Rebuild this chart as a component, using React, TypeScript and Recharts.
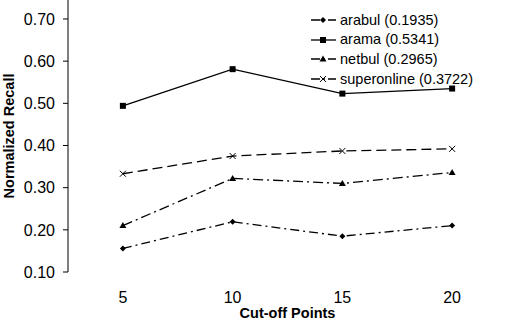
import { LineChart, Line, XAxis, YAxis } from "recharts";

const cutoffs = [5, 10, 15, 20];
const arabul = [0.156, 0.219, 0.185, 0.21];
const arama = [0.494, 0.581, 0.523, 0.535];
const netbul = [0.21, 0.322, 0.31, 0.336];
const superonline = [0.333, 0.375, 0.387, 0.392];

const yTicks = [0.1, 0.2, 0.3, 0.4, 0.5, 0.6, 0.7];
const bandEdges = [2.5, 7.5, 12.5, 17.5, 22.5];

const FONT = "'Liberation Sans', Arial, sans-serif";

type MarkerKind = "diamond" | "square" | "triangle" | "cross";

const series: { key: string; label: string; dash?: string; marker: MarkerKind }[] = [
  { key: "arabul", label: "arabul (0.1935)", dash: "9 4 2 4", marker: "diamond" },
  { key: "arama", label: "arama (0.5341)", marker: "square" },
  { key: "netbul", label: "netbul (0.2965)", dash: "10 4 2 4", marker: "triangle" },
  { key: "superonline", label: "superonline (0.3722)", dash: "10 5", marker: "cross" },
];

const data = cutoffs.map((x, i) => ({
  x,
  arabul: arabul[i],
  arama: arama[i],
  netbul: netbul[i],
  superonline: superonline[i],
}));

const Marker = ({ kind, cx, cy }: { kind: MarkerKind; cx: number; cy: number }) => {
  if (kind === "square")
    return <rect x={cx - 3} y={cy - 3} width={6} height={6} fill="#000" />;
  if (kind === "diamond")
    return (
      <polygon
        points={`${cx},${cy - 3} ${cx + 3},${cy} ${cx},${cy + 3} ${cx - 3},${cy}`}
        fill="#000"
      />
    );
  if (kind === "triangle")
    return (
      <polygon
        points={`${cx},${cy - 3.5} ${cx + 3.5},${cy + 2.5} ${cx - 3.5},${cy + 2.5}`}
        fill="#000"
      />
    );
  return (
    <g stroke="#000" strokeWidth={1}>
      <line x1={cx - 3} y1={cy - 3} x2={cx + 3} y2={cy + 3} />
      <line x1={cx - 3} y1={cy + 3} x2={cx + 3} y2={cy - 3} />
    </g>
  );
};

// legend drawn as an overlay so it doesn't shrink the plot
const LegendBox = () => (
  <div
    style={{
      position: "absolute",
      left: 310,
      top: 10,
      fontFamily: FONT,
      fontSize: 14.5,
      color: "#000",
      lineHeight: 1,
    }}
  >
    {series.map((s) => (
      <div key={s.key} style={{ display: "flex", alignItems: "center", height: 19.7 }}>
        <svg width={28} height={10} style={{ marginRight: 2 }}>
          <line
            x1={1}
            y1={5}
            x2={26}
            y2={5}
            stroke="#000"
            strokeWidth={1.3}
            strokeDasharray={s.dash ? "9 3 2 3" : undefined}
          />
          <Marker kind={s.marker} cx={13} cy={5} />
        </svg>
        <span>{s.label}</span>
      </div>
    ))}
  </div>
);

export default function App() {
  return (
    <div style={{ position: "absolute", left: 0, top: 0, width: 510, height: 321, background: "#fff" }}>
      <LineChart
        width={510}
        height={321}
        data={data}
        margin={{ top: 0, right: 3, bottom: 0, left: 0 }}
        style={{ fontFamily: FONT }}
      >
        <XAxis
          xAxisId="edges"
          type="number"
          dataKey="x"
          domain={[2.5, 22.5]}
          ticks={bandEdges}
          tick={false}
          tickSize={5}
          height={0}
          stroke="#000"
          allowDataOverflow
        />
        <XAxis
          xAxisId="labels"
          type="number"
          dataKey="x"
          domain={[2.5, 22.5]}
          ticks={cutoffs}
          axisLine={false}
          tickLine={false}
          tickMargin={14}
          height={49}
          tick={{ fill: "#000", fontSize: 16 }}
          label={{
            value: "Cut-off Points",
            position: "insideBottom",
            offset: 3,
            style: { fontWeight: "bold", fontSize: 14.5, fill: "#000" },
          }}
        />
        <YAxis
          type="number"
          domain={[0.1, 0.745]}
          ticks={yTicks}
          width={68}
          tickSize={5}
          tickMargin={8}
          stroke="#000"
          tick={{ fill: "#000", fontSize: 16 }}
          tickFormatter={(v: number) => v.toFixed(2)}
          allowDataOverflow
          label={{
            value: "Normalized Recall",
            angle: -90,
            position: "insideLeft",
            offset: 9,
            style: { fontWeight: "bold", fontSize: 14.5, fill: "#000", textAnchor: "middle" },
          }}
        />
        {series.map((s) => (
          <Line
            key={s.key}
            xAxisId="labels"
            dataKey={s.key}
            stroke="#000"
            strokeWidth={1.3}
            strokeDasharray={s.dash}
            isAnimationActive={false}
            dot={(p: any) => <Marker key={`${s.key}-${p.index}`} kind={s.marker} cx={p.cx} cy={p.cy} />}
            activeDot={false}
          />
        ))}
      </LineChart>
      <LegendBox />
    </div>
  );
}
